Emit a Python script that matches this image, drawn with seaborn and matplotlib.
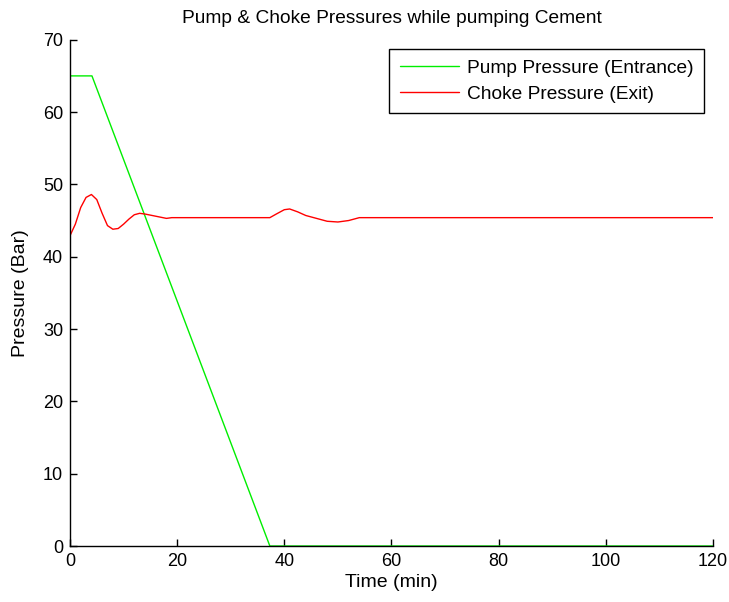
import seaborn as sns
import matplotlib
matplotlib.use("Agg")
import matplotlib.pyplot as plt

# pump pressure (entrance)
pump_t = [0, 4.1, 37.3, 120]
pump_p = [65, 65, 0, 0]

# choke pressure (exit)
choke_t = [0, 1, 2, 3, 4, 5, 6, 7, 8, 9, 10, 11, 12, 13, 14, 16, 18, 19,
           37.3, 38.5, 40, 41, 42.5, 44, 46, 48, 50, 52, 54, 120]
choke_p = [42.9, 44.5, 46.8, 48.2, 48.6, 47.9, 46.0, 44.3, 43.8, 43.9, 44.5, 45.2, 45.8, 46.0, 45.9, 45.6, 45.3, 45.4,
           45.4, 45.9, 46.5, 46.6, 46.2, 45.7, 45.3, 44.9, 44.8, 45.0, 45.4, 45.4]

xticks = [0, 20, 40, 60, 80, 100, 120]
yticks = [0, 10, 20, 30, 40, 50, 60, 70]

sns.set_style("ticks")
plt.rcParams['font.family'] = ['Liberation Sans', 'DejaVu Sans']
plt.rcParams['text.color'] = 'black'
plt.rcParams['axes.labelcolor'] = 'black'

fig = plt.figure(figsize=(7.29, 6.02), dpi=100)
ax = fig.add_axes([0.096, 0.093, 0.882, 0.841])

sns.lineplot(x=pump_t, y=pump_p, color="#00ee00", linewidth=1, label="Pump Pressure (Entrance)", ax=ax)
sns.lineplot(x=choke_t, y=choke_p, color="#ff0000", linewidth=1, label="Choke Pressure (Exit)", ax=ax)

ax.set_xlim(0, 120)
ax.set_ylim(0, 70)
ax.set_xticks(xticks)
ax.set_yticks(yticks)
ax.tick_params(direction="in", length=5, width=1, labelsize=13, colors="black", pad=5)
sns.despine(ax=ax)
for s in ["left", "bottom"]:
    ax.spines[s].set_color("black")
    ax.spines[s].set_linewidth(1)

ax.set_title("Pump & Choke Pressures while pumping Cement", fontsize=13.8, pad=12)
ax.set_xlabel("Time (min)", fontsize=14, labelpad=3)
ax.set_ylabel("Pressure (Bar)", fontsize=14, labelpad=10)

leg = ax.legend(loc="upper right", fontsize=13.8, frameon=True, fancybox=False,
                edgecolor="black", framealpha=1, handlelength=3.1, handletextpad=0.4,
                borderpad=0.55, labelspacing=0.45,
                bbox_to_anchor=(0.986, 0.982), borderaxespad=0)
leg.get_frame().set_linewidth(1)

fig.savefig("out.png", dpi=100)
